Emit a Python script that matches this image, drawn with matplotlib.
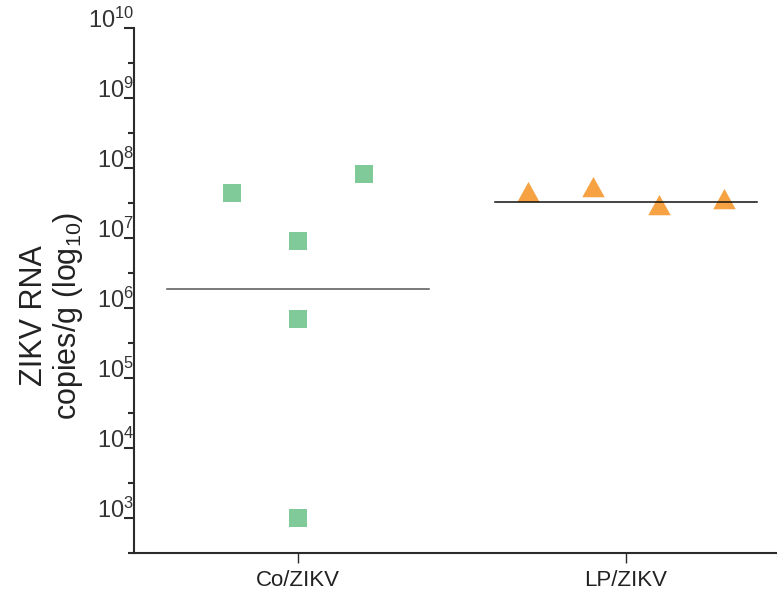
import matplotlib.pyplot as plt
import numpy as np
from matplotlib.ticker import FixedLocator, NullFormatter

plt.rcParams['font.family'] = ['Liberation Sans', 'DejaVu Sans']
plt.rcParams['mathtext.fontset'] = 'custom'
plt.rcParams['mathtext.rm'] = 'Liberation Sans'
plt.rcParams['mathtext.it'] = 'Liberation Sans:italic'

# Data
groups = ['Co/ZIKV', 'LP/ZIKV']
co_values = [4.4e7, 8.2e7, 9.1e6, 7.0e5, 1.0e3]
lp_values = [4.1e7, 4.8e7, 2.7e7, 3.3e7]
co_mean = 1.87e6
lp_mean = 3.25e7

# jitter within each group
co_offsets = [-0.2, 0.2, 0.0, 0.0, 0.0]
lp_offsets = [-0.3, -0.1, 0.1, 0.3]

green = '#80CA9A'
orange = '#F6A243'
axis_col = '#2b2b2b'

fig = plt.figure(figsize=(7.77, 6.03), dpi=100)
# axes runs a little past the right edge of the figure
ax = fig.add_axes([134 / 777, 50 / 603, 656 / 777, 525 / 603])

ax.scatter(1 + np.array(co_offsets), co_values, marker='s', s=12.7 ** 2,
           color=green, linewidths=0, zorder=3)

# triangle with its centroid at the origin
tri = [(0, 1.0), (-0.83, -0.5), (0.83, -0.5), (0, 1.0)]
ax.scatter(2 + np.array(lp_offsets), lp_values, marker=tri, s=19.5 ** 2,
           color=orange, linewidths=0, zorder=3)

ax.plot([0.6, 1.4], [co_mean, co_mean], color='#555555', lw=1.1, zorder=2)
ax.plot([1.6, 2.4], [lp_mean, lp_mean], color='#111111', lw=1.1, zorder=4)

ax.set_yscale('log')
ax.set_ylim(10 ** 2.5, 1e10)
ax.set_xlim(0.5, 2.5)

major = [10.0 ** k for k in range(3, 11)]
minor = [10.0 ** (k + 0.5) for k in range(2, 10)]
ax.yaxis.set_major_locator(FixedLocator(major))
ax.yaxis.set_minor_locator(FixedLocator(minor))
ax.yaxis.set_minor_formatter(NullFormatter())
ax.set_yticklabels([r'$10^{%d}$' % k for k in range(3, 11)])
for lab in ax.get_yticklabels():
    lab.set_verticalalignment('baseline')

ax.set_xticks([1, 2])
ax.set_xticklabels(groups)

for side in ['top', 'right']:
    ax.spines[side].set_visible(False)
for side in ['left', 'bottom']:
    ax.spines[side].set_color(axis_col)
    ax.spines[side].set_linewidth(1.5)

ax.tick_params(axis='y', which='major', length=7, width=1.5, color=axis_col,
               labelsize=17, labelcolor='#333333', pad=-7)
ax.tick_params(axis='y', which='minor', length=4, width=1.5, color=axis_col)
ax.tick_params(axis='x', which='major', length=7, width=1.0, color=axis_col,
               labelsize=16, labelcolor='#222222', pad=5)

fig.text(52 / 777, 1 - 316 / 603, 'ZIKV RNA\ncopies/g (log$_{10}$)', rotation=90,
         ha='center', va='center', multialignment='center', fontsize=22,
         color='#222222', linespacing=1.1)

plt.savefig('out.png', dpi=100)
